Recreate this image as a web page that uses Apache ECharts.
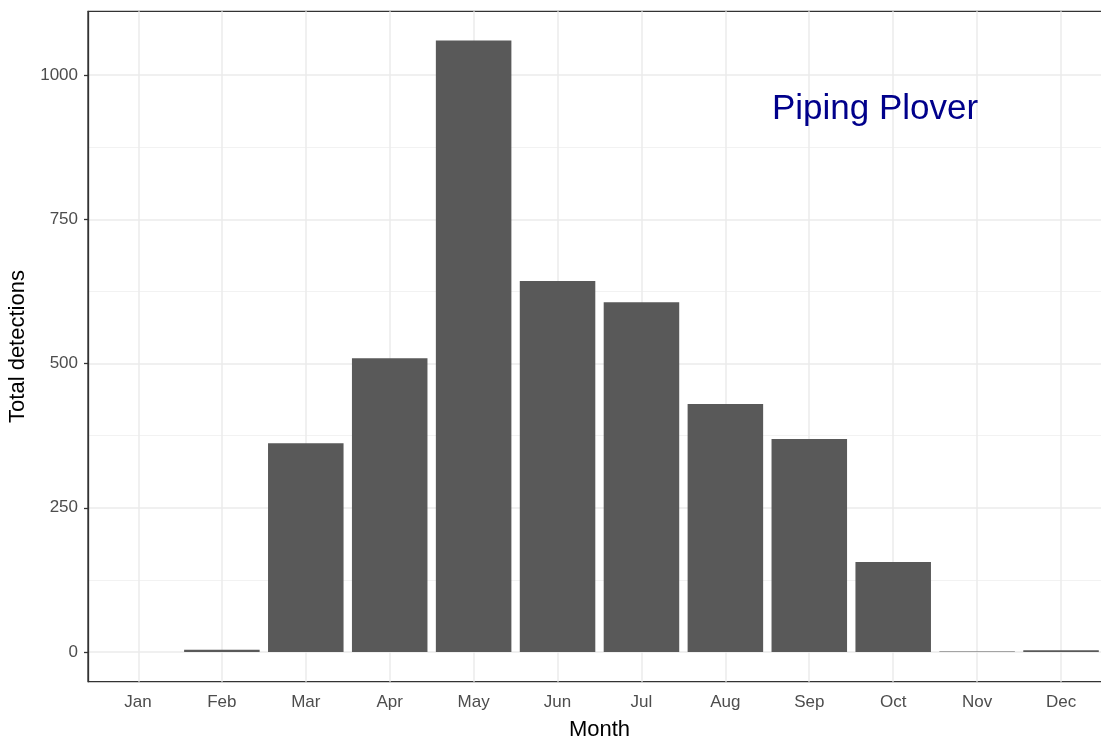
<!DOCTYPE html>
<html>
<head>
<meta charset="utf-8">
<script src="https://cdn.jsdelivr.net/npm/echarts@6/dist/echarts.min.js"></script>
<style>
  html, body { margin: 0; padding: 0; background: #fff; }
  #chart { width: 1101px; height: 738px; }
</style>
</head>
<body>
<div id="chart"></div>
<script>
// monthly totals
var months = ["Jan", "Feb", "Mar", "Apr", "May", "Jun", "Jul", "Aug", "Sep", "Oct", "Nov", "Dec"];
var detections = [0, 4, 362, 509, 1060, 643, 606, 430, 369, 156, 1, 3];
var monthPos = [1, 2, 3, 4, 5, 6, 7, 8, 9, 10, 11, 12];
var yTicks = [0, 250, 500, 750, 1000];
var yMinor = [125, 375, 625, 875];
var yMin = -51.5, yMax = 1110.5;

var font = "Liberation Sans, Arial, sans-serif";
var myChart = echarts.init(document.getElementById("chart"));

var option = {
  animation: false,
  title: {
    text: "Piping Plover",
    left: 870,
    top: 104,
    textAlign: "center",
    textVerticalAlign: "middle",
    textStyle: { color: "#00008B", fontSize: 35, fontWeight: "normal", fontFamily: font },
  },
  grid: [
    // panel with border (theme_bw)
    { left: 88, top: 11.3, width: 1023, height: 670.4, outerBoundsMode: "none", containLabel: false,
      show: true, borderColor: "#333333", borderWidth: 1.3, backgroundColor: "transparent" },
    // bars: category bands, 0.6 units of padding on each side
    { left: 96, top: 11.3, width: 1007, height: 670.4, outerBoundsMode: "none", containLabel: false },
  ],
  xAxis: [
    {
      type: "value",
      gridIndex: 0,
      min: 0.4,
      max: 12.6,
      axisLine: { show: false },
      axisTick: { show: false, customValues: monthPos },
      axisLabel: { show: false, customValues: monthPos },
      splitLine: { show: true, customValues: monthPos, lineStyle: { color: "#EBEBEB", width: 1.5 } },
    },
    {
      type: "category",
      gridIndex: 1,
      data: months,
      axisLine: { show: false },
      axisTick: { alignWithLabel: true, length: 4, lineStyle: { color: "#333333", width: 1.3 } },
      axisLabel: { color: "#4D4D4D", fontSize: 17, fontFamily: font, margin: 12 },
      splitLine: { show: false },
      name: "Month",
      nameLocation: "middle",
      nameGap: 37,
      nameTextStyle: { color: "#000", fontSize: 22, fontFamily: font },
    },
  ],
  yAxis: [
    {
      type: "value",
      gridIndex: 0,
      min: yMin,
      max: yMax,
      axisLine: { show: true, lineStyle: { color: "#333333", width: 1.3 } },
      axisTick: { show: true, length: 4, customValues: yTicks, lineStyle: { color: "#333333", width: 1.3 } },
      axisLabel: {
        color: "#4D4D4D", fontSize: 17, fontFamily: font, margin: 10, customValues: yTicks,
        formatter: function (v) { return String(v); },
      },
      splitLine: { show: true, customValues: yTicks, lineStyle: { color: "#EBEBEB", width: 1.5 } },
      name: "Total detections",
      nameLocation: "middle",
      nameGap: 55,
      nameTextStyle: { color: "#000", fontSize: 22, fontFamily: font },
    },
    {
      type: "value",
      gridIndex: 0,
      min: yMin,
      max: yMax,
      axisLine: { show: false },
      axisTick: { show: false, customValues: yMinor },
      axisLabel: { show: false, customValues: yMinor },
      splitLine: { show: true, customValues: yMinor, lineStyle: { color: "#F2F2F2", width: 1 } },
    },
    { type: "value", gridIndex: 1, min: yMin, max: yMax, show: false, splitLine: { show: false } },
  ],
  series: [
    {
      type: "bar",
      xAxisIndex: 1,
      yAxisIndex: 2,
      data: detections,
      barCategoryGap: "10%",
      itemStyle: { color: "#595959" },
    },
  ],
};
myChart.setOption(option);
</script>
</body>
</html>
